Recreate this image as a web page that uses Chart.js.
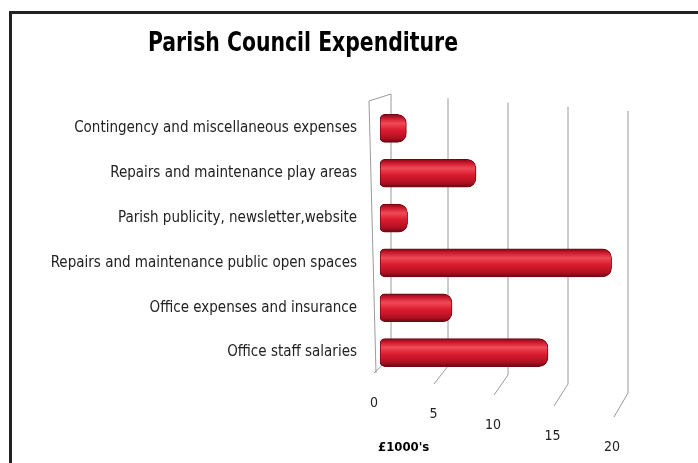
<!DOCTYPE html>
<html>
<head>
<meta charset="utf-8">
<script src="https://cdn.jsdelivr.net/npm/chart.js@4.4.1/dist/chart.umd.min.js"></script>
<style>
  html, body { margin: 0; padding: 0; background: #ffffff; overflow: hidden; }
  #wrap { position: absolute; left: 0; top: 0; width: 698px; height: 463px; }
  #frame { position: absolute; left: 9px; top: 11px; width: 720px; height: 500px;
           border-left: 3px solid #222; border-top: 3px solid #222; pointer-events: none; }
</style>
</head>
<body>
<div id="wrap"><canvas id="c" width="698" height="463"></canvas></div>
<div id="frame"></div>
<script>
const titleText = "Parish Council Expenditure";
const categories = [
  "Contingency and miscellaneous expenses",
  "Repairs and maintenance play areas",
  "Parish publicity, newsletter,website",
  "Repairs and maintenance public open spaces",
  "Office expenses and insurance",
  "Office staff salaries"
];
const expenditure = [2.2, 8, 2.3, 19.3, 6, 14];
const tickValues = [0, 5, 10, 15, 20];
const axisTitle = "£1000's";

const FONT = '"Liberation Sans Narrow", "DejaVu Sans Condensed", "Open Sans", sans-serif';

function cylinderFill(context) {
  const chart = context.chart;
  const yScale = chart.scales && chart.scales.y;
  if (!yScale || !chart.chartArea) return '#d81a2c';
  const cy = yScale.getPixelForValue(context.dataIndex);
  const h = 28;
  const g = chart.ctx.createLinearGradient(0, cy - h / 2, 0, cy + h / 2);
  g.addColorStop(0, '#7d0a16');
  g.addColorStop(0.12, '#c8152a');
  g.addColorStop(0.32, '#ef4a57');
  g.addColorStop(0.55, '#dc1d30');
  g.addColorStop(0.85, '#b10f22');
  g.addColorStop(1, '#6a0812');
  return g;
}

const decor = {
  id: 'decor',
  beforeDatasetsDraw(chart) {
    const { ctx, chartArea: a, scales: { x } } = chart;
    ctx.save();
    ctx.strokeStyle = '#9a9a9a';
    ctx.lineWidth = 1;
    const x0 = x.getPixelForValue(0);
    // back wall left edge + top bracket
    ctx.beginPath();
    ctx.moveTo(x0 - 11, a.top - 5);
    ctx.lineTo(x0 - 4, a.bottom - 2);
    ctx.moveTo(x0 - 11, a.top - 5);
    ctx.lineTo(x0 + 11, a.top - 12);
    ctx.stroke();
    // back-wall gridlines with floor stubs (3D look)
    tickValues.forEach((v) => {
      const px = x.getPixelForValue(v);
      const off = v === 0 ? 11 : 8;
      const topY = a.top - 12 + v * 0.85;
      const botY = a.bottom - 18 + v * 1.8;
      ctx.beginPath();
      ctx.moveTo(px + off, topY);
      ctx.lineTo(px + off, botY);
      ctx.lineTo(px - 6, a.bottom - 2 + v * 2.2);
      ctx.stroke();
    });
    ctx.restore();
  },
  afterDraw(chart) {
    const { ctx, chartArea: a, scales: { x } } = chart;
    ctx.save();
    // title (condensed to the reference width)
    ctx.fillStyle = '#000';
    ctx.font = 'bold 27px ' + FONT;
    ctx.textAlign = 'center';
    ctx.textBaseline = 'alphabetic';
    const w = ctx.measureText(titleText).width;
    const sx = Math.min(1, 310 / w);
    ctx.translate(303, 51);
    ctx.scale(sx, 1);
    ctx.fillText(titleText, 0, 0);
    ctx.setTransform(1, 0, 0, 1, 0, 0);
    // tick labels, staggered like the 3D floor
    ctx.textBaseline = 'middle';
    ctx.font = '14px ' + FONT;
    ctx.fillStyle = '#222';
    tickValues.forEach((v, i) => {
      const px = x.getPixelForValue(v);
      ctx.fillText(String(v), px - 6 - i * 0.5, a.bottom + 28 + i * 11);
    });
    // axis title
    ctx.font = 'bold 13px ' + FONT;
    ctx.textAlign = 'left';
    ctx.fillStyle = '#000';
    ctx.fillText(axisTitle, a.left - 2, 448);
    ctx.restore();
  }
};

new Chart(document.getElementById('c'), {
  type: 'bar',
  data: {
    labels: categories,
    datasets: [{
      data: expenditure,
      backgroundColor: cylinderFill,
      borderColor: '#6e0912',
      borderWidth: 1,
      borderSkipped: false,
      borderRadius: { topLeft: 5, bottomLeft: 5, topRight: 9, bottomRight: 9 },
      barThickness: 28
    }]
  },
  options: {
    indexAxis: 'y',
    responsive: false,
    animation: false,
    devicePixelRatio: 1,
    layout: { padding: { left: 10, right: 78, top: 106, bottom: 88 } },
    plugins: { legend: { display: false }, title: { display: false }, tooltip: { enabled: false } },
    scales: {
      x: {
        min: 0, max: 20,
        ticks: { display: false, stepSize: 5 },
        grid: { display: false, drawTicks: false },
        border: { display: false }
      },
      y: {
        afterFit(s) { s.width = 370; },
        ticks: { color: '#222', padding: 15, font: { family: FONT, size: 15 } },
        grid: { display: false },
        border: { display: false }
      }
    }
  },
  plugins: [decor]
});
</script>
</body>
</html>
